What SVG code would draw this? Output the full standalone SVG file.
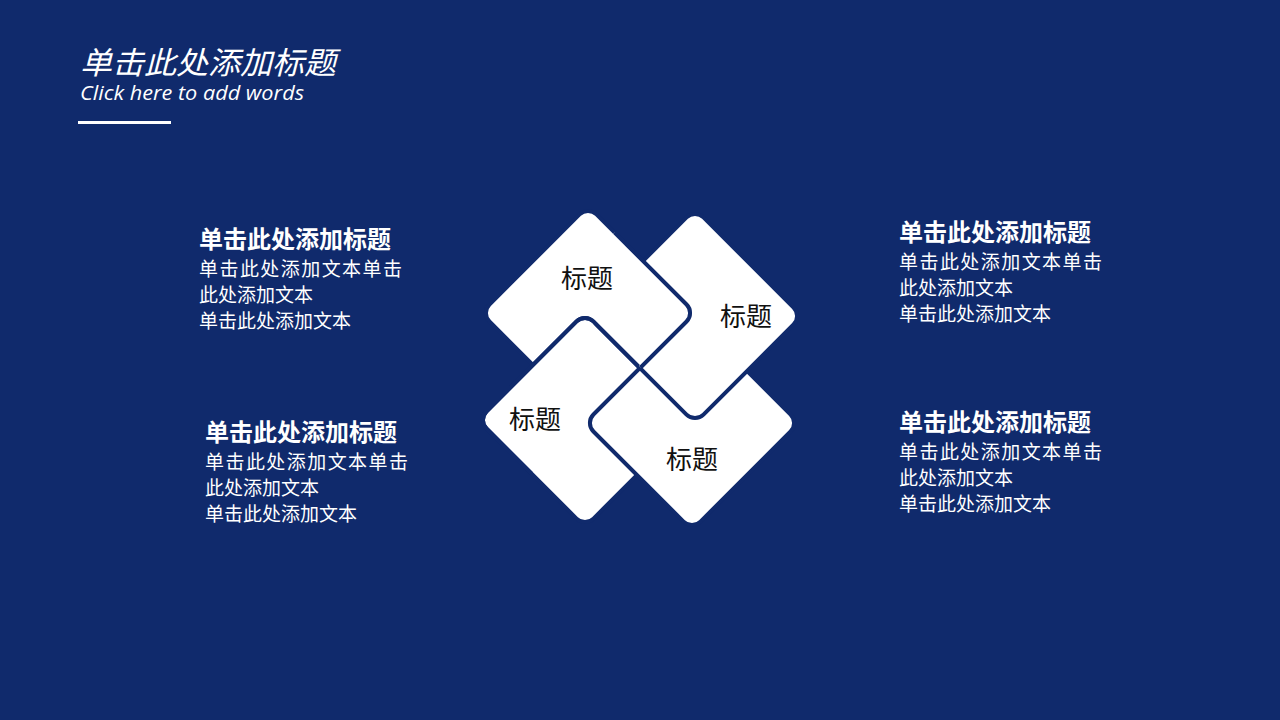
<svg xmlns="http://www.w3.org/2000/svg" width="1280" height="720" viewBox="0 0 1280 720">
<style>
.bg{fill:#102A6C}
.tile{fill:#FFFFFF;stroke:#102A6C;stroke-width:4}
.tlabel{font-family:"Noto Sans CJK SC","Noto Sans",sans-serif;font-size:26px;fill:#111111;text-anchor:middle}
.h{font-family:"Noto Sans CJK SC","Noto Sans",sans-serif;font-size:24px;font-weight:bold;fill:#FFFFFF}
.b{font-family:"Noto Sans CJK SC","Noto Sans",sans-serif;font-size:19px;fill:#FFFFFF}
</style>
<defs>
<rect id="sq" x="-75.7" y="-75.7" width="151.4" height="151.4" rx="12" ry="12"/>
<clipPath id="tlclip"><polygon points="560,287 900,-53 900,627"/></clipPath>
<clipPath id="blclip"><polygon points="480,300 705,300 480,525"/></clipPath>
</defs>
<rect class="bg" x="0" y="0" width="1280" height="720"/>

<g id="title">
<text x="80" y="74" font-family="'Noto Sans CJK SC',sans-serif" font-size="31" font-style="italic" fill="#FFFFFF" textLength="256" lengthAdjust="spacingAndGlyphs">单击此处添加标题</text>
<text x="80" y="100" font-family="'Open Sans','Liberation Sans',sans-serif" font-size="20" font-style="italic" fill="#FFFFFF" textLength="224" lengthAdjust="spacingAndGlyphs">Click here to add words</text>
<rect x="78" y="121" width="93" height="3" fill="#FFFFFF"/>
</g>

<g id="tile-tl"><use href="#sq" class="tile" transform="translate(588,313) rotate(45)"/></g>
<g id="tile-bl"><use href="#sq" class="tile" transform="translate(585,420) rotate(45)"/></g>
<g id="tile-br"><use href="#sq" class="tile" transform="translate(692,423) rotate(45)"/></g>
<g id="tile-tr"><use href="#sq" class="tile" transform="translate(695,316) rotate(45)"/></g>
<g id="tile-tl-over" clip-path="url(#tlclip)"><use href="#sq" class="tile" transform="translate(588,313) rotate(45)"/></g>
<g id="tile-bl-edge" clip-path="url(#blclip)"><use href="#sq" class="tile" style="fill:none" transform="translate(585,420) rotate(45)"/></g>

<g id="tile-labels">
<text class="tlabel" x="587" y="288">标题</text>
<text class="tlabel" x="746" y="326">标题</text>
<text class="tlabel" x="535" y="429">标题</text>
<text class="tlabel" x="692" y="469">标题</text>
</g>

<g id="text-lt">
<text class="h" x="199" y="248">单击此处添加标题</text>
<text class="b" x="199" y="276" textLength="203" lengthAdjust="spacing">单击此处添加文本单击</text>
<text class="b" x="199" y="302">此处添加文本</text>
<text class="b" x="199" y="328">单击此处添加文本</text>
</g>
<g id="text-lb">
<text class="h" x="205" y="441">单击此处添加标题</text>
<text class="b" x="205" y="469" textLength="203" lengthAdjust="spacing">单击此处添加文本单击</text>
<text class="b" x="205" y="495">此处添加文本</text>
<text class="b" x="205" y="521">单击此处添加文本</text>
</g>
<g id="text-rt">
<text class="h" x="899" y="241">单击此处添加标题</text>
<text class="b" x="899" y="269" textLength="203" lengthAdjust="spacing">单击此处添加文本单击</text>
<text class="b" x="899" y="295">此处添加文本</text>
<text class="b" x="899" y="321">单击此处添加文本</text>
</g>
<g id="text-rb">
<text class="h" x="899" y="431">单击此处添加标题</text>
<text class="b" x="899" y="459" textLength="203" lengthAdjust="spacing">单击此处添加文本单击</text>
<text class="b" x="899" y="485">此处添加文本</text>
<text class="b" x="899" y="511">单击此处添加文本</text>
</g>
</svg>
